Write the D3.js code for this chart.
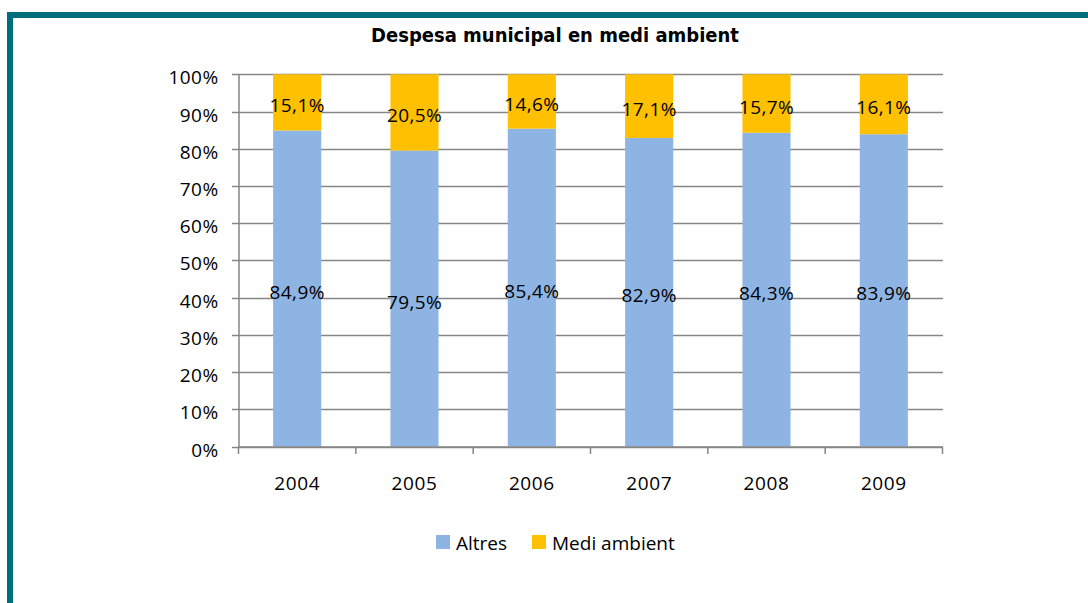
<!DOCTYPE html>
<html>
<head>
<meta charset="utf-8">
<script src="https://cdn.jsdelivr.net/npm/d3@7"></script>
<style>
  body { margin: 0; background: #fff; }
  svg text { font-family: "Open Sans", "Noto Sans", sans-serif; }
</style>
</head>
<body>
<svg id="chart"></svg>
<script>
const years = ["2004", "2005", "2006", "2007", "2008", "2009"];
const altres = [84.9, 79.5, 85.4, 82.9, 84.3, 83.9];
const mediAmbient = [15.1, 20.5, 14.6, 17.1, 15.7, 16.1];
const yTicks = [0, 10, 20, 30, 40, 50, 60, 70, 80, 90, 100];
const seriesNames = ["Altres", "Medi ambient"];
const colors = ["#8EB4E3", "#FFC000"];

const width = 1088;
const height = 603;
const fs = "19px";

let svg = d3.select("#chart")
  .attr("width", width)
  .attr("height", height);

// frame (teal border top + left)
svg.append("rect").attr("x", 7).attr("y", 12).attr("width", width - 7).attr("height", 6).attr("fill", "#006D7A");
svg.append("rect").attr("x", 7).attr("y", 12).attr("width", 6).attr("height", height - 12).attr("fill", "#006D7A");

svg.append("text")
  .text("Despesa municipal en medi ambient")
  .attr("x", 555)
  .attr("y", 42)
  .attr("text-anchor", "middle")
  .style("font-family", "'DejaVu Sans Condensed', 'DejaVu Sans', sans-serif")
  .style("font-weight", "bold")
  .style("font-size", "20px");

let xScale = d3.scaleBand()
  .domain(years)
  .range([238.5, 942.5])
  .paddingInner(0.59)
  .paddingOuter(0.295);

let yScale = d3.scaleLinear()
  .domain([0, 100])
  .range([446.5, 74.3]);

// gridlines
svg.append("g")
  .selectAll("line")
  .data(yTicks)
  .enter()
  .append("line")
  .attr("x1", 232)
  .attr("x2", 943)
  .attr("y1", d => Math.round(yScale(d)) + 0.5)
  .attr("y2", d => Math.round(yScale(d)) + 0.5)
  .attr("stroke", "#868686")
  .attr("stroke-width", 1.5);

let rows = years.map((y, i) => ({ year: y, altres: altres[i], medi: mediAmbient[i] }));

// Altres bars
svg.append("g")
  .selectAll("rect")
  .data(rows)
  .enter()
  .append("rect")
  .attr("x", d => xScale(d.year))
  .attr("width", xScale.bandwidth())
  .attr("y", d => yScale(d.altres))
  .attr("height", d => yScale(0) - yScale(d.altres))
  .attr("fill", colors[0]);

// Medi ambient bars
svg.append("g")
  .selectAll("rect")
  .data(rows)
  .enter()
  .append("rect")
  .attr("x", d => xScale(d.year))
  .attr("width", xScale.bandwidth())
  .attr("y", d => yScale(d.altres + d.medi))
  .attr("height", d => yScale(d.altres) - yScale(d.altres + d.medi))
  .attr("fill", colors[1]);

let fmt = v => v.toFixed(1).replace(".", ",") + "%";

// labels
svg.append("g")
  .selectAll("text")
  .data(rows)
  .enter()
  .append("text")
  .attr("x", d => xScale(d.year) + xScale.bandwidth() / 2)
  .attr("y", d => yScale(d.altres / 2) + 10)
  .attr("text-anchor", "middle")
  .style("font-size", fs)
  .style("letter-spacing", "0.4px")
  .text(d => fmt(d.altres));

svg.append("g")
  .selectAll("text")
  .data(rows)
  .enter()
  .append("text")
  .attr("x", d => xScale(d.year) + xScale.bandwidth() / 2)
  .attr("y", d => yScale(d.altres + d.medi / 2) + 10)
  .attr("text-anchor", "middle")
  .style("font-size", fs)
  .style("letter-spacing", "0.4px")
  .text(d => fmt(d.medi));

// y axis
let yAxis = d3.axisLeft(yScale)
  .tickValues(yTicks)
  .tickFormat(d => d + "%")
  .tickSize(0)
  .tickPadding(14);
let gy = svg.append("g")
  .attr("transform", "translate(232.5,0)")
  .call(yAxis);
gy.select(".domain").remove();
gy.selectAll("text")
  .attr("dy", "0.5em")
  .style("font-size", fs)
  .style("letter-spacing", "0.4px")
  .style("font-family", "'Open Sans', sans-serif")
  .attr("fill", "#000");

svg.append("line")
  .attr("x1", 239).attr("x2", 239)
  .attr("y1", yScale(100)).attr("y2", yScale(0) + 1)
  .attr("stroke", "#868686").attr("stroke-width", 1.5);

// x axis
let xPos = d3.scaleLinear().domain([0, years.length]).range([238.5, 942.5]);
svg.append("line")
  .attr("x1", 238.5).attr("x2", 943)
  .attr("y1", 447).attr("y2", 447)
  .attr("stroke", "#868686").attr("stroke-width", 1.5);
svg.append("g")
  .selectAll("line")
  .data(d3.range(years.length + 1))
  .enter()
  .append("line")
  .attr("x1", d => xPos(d)).attr("x2", d => xPos(d))
  .attr("y1", 447).attr("y2", 454)
  .attr("stroke", "#868686").attr("stroke-width", 1.5);

svg.append("g")
  .selectAll("text")
  .data(years)
  .enter()
  .append("text")
  .attr("x", d => xScale(d) + xScale.bandwidth() / 2)
  .attr("y", 490)
  .attr("text-anchor", "middle")
  .style("font-size", fs)
  .style("letter-spacing", "0.6px")
  .text(d => d);

// legend
let legendItems = [
  { name: seriesNames[0], color: colors[0], x: 436 },
  { name: seriesNames[1], color: colors[1], x: 532 }
];
let lg = svg.append("g");
lg.selectAll("rect")
  .data(legendItems)
  .enter()
  .append("rect")
  .attr("x", d => d.x)
  .attr("y", 535)
  .attr("width", 14)
  .attr("height", 14)
  .attr("fill", d => d.color);
lg.selectAll("text")
  .data(legendItems)
  .enter()
  .append("text")
  .attr("x", d => d.x + 20)
  .attr("y", 550)
  .style("font-size", fs)
  .text(d => d.name);
</script>
</body>
</html>
